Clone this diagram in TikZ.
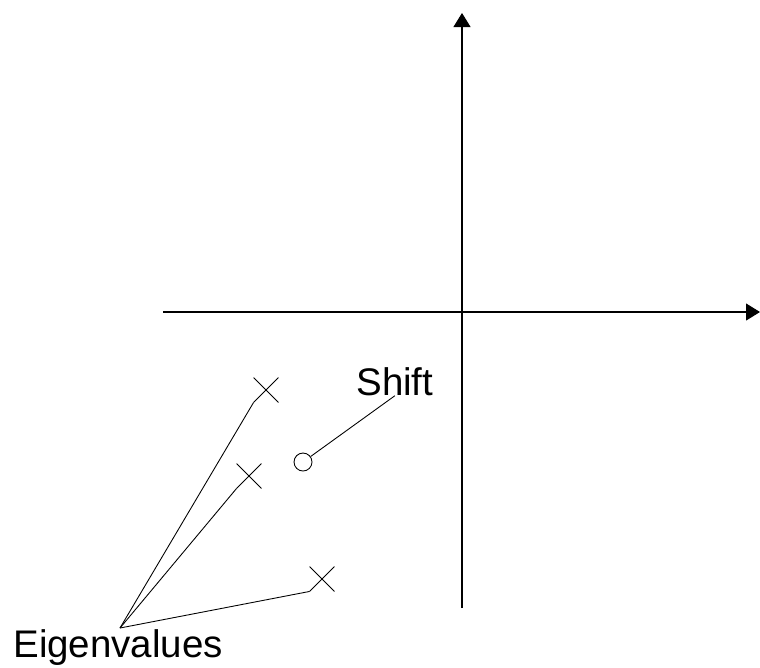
\documentclass[tikz,border=0pt]{standalone}
\usepackage{fontspec}
\setmainfont{Liberation Sans}
\usetikzlibrary{arrows.meta,shapes.misc}
\tikzstyle{axis} = [line width=0.6pt, -{Triangle[length=0.28cm,width=0.34cm]}]
\tikzstyle{eigmark} = [draw, cross out, inner sep=0pt, minimum size=0.48cm, line width=0.5pt]
\tikzstyle{shiftmark} = [draw, circle, inner sep=0pt, minimum size=0.36cm, line width=0.5pt]
\tikzstyle{lead} = [line width=0.5pt]
\tikzstyle{label} = [inner sep=0pt, font=\fontsize{21.9}{26}\selectfont]

\begin{document}
\begin{tikzpicture}[x=0.02cm,y=-0.02cm]
    \useasboundingbox (0,0) rectangle (760,667);
    % axes
    \coordinate (xl) at (163,312);
    \coordinate (xr) at (760,312);
    \coordinate (yb) at (462,608);
    \coordinate (yt) at (462,13);
    \draw[axis] (xl) -- (xr);
    \draw[axis] (yb) -- (yt);
    % eigenvalues and shift
    \node[eigmark] (e1) at (266,390) {};
    \node[eigmark] (e2) at (249,476) {};
    \node[eigmark] (e3) at (322,579) {};
    \node[shiftmark] (sh) at (303,462) {};
    \node[label,anchor=base west] (shtxt) at (356,395) {Shift};
    \node[label,anchor=base west] (eigtxt) at (13,657) {Eigenvalues};
    \coordinate (eig) at (120,628);
    \draw[lead] (eig) -- (e1.south west);
    \draw[lead] (eig) -- (e2.south west);
    \draw[lead] (eig) -- (e3.south west);
    \draw[lead] (sh) -- (shtxt.south);
\end{tikzpicture}
\end{document}
